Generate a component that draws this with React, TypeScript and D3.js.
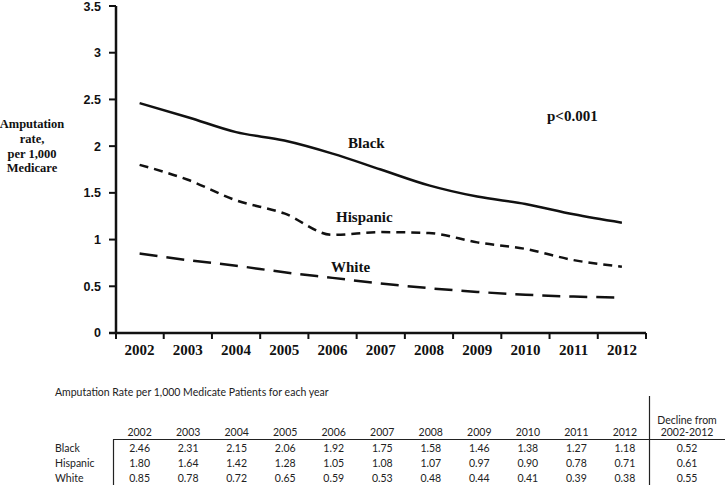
import React from "react";
import * as d3 from "d3";

const years = ["2002","2003","2004","2005","2006","2007","2008","2009","2010","2011","2012"];
const black = [2.46, 2.31, 2.15, 2.06, 1.92, 1.75, 1.58, 1.46, 1.38, 1.27, 1.18];
const hispanic = [1.80, 1.64, 1.42, 1.28, 1.05, 1.08, 1.07, 0.97, 0.90, 0.78, 0.71];
const white = [0.85, 0.78, 0.72, 0.65, 0.59, 0.53, 0.48, 0.44, 0.41, 0.39, 0.38];
const groups = ["Black", "Hispanic", "White"];
const decline = ["0.52", "0.61", "0.55"];
const yTicks = [0, 0.5, 1, 1.5, 2, 2.5, 3, 3.5];
const yTitle = ["Amputation", "rate,", "per 1,000", "Medicare"];

const W = 725, H = 485;

export default function App() {
  const x = d3.scaleBand<string>().domain(years).range([115.5, 646]).padding(0);
  const y = d3.scaleLinear().domain([0, 3.5]).range([333, 6]);
  const cx = (yr: string) => (x(yr) as number) + x.bandwidth() / 2;
  const line = d3
    .line<number>()
    .x((_, i) => cx(years[i]))
    .y((d) => y(d))
    .curve(d3.curveMonotoneX);

  const series = [
    { data: black, dash: undefined as string | undefined },
    { data: hispanic, dash: "9,6" },
    { data: white, dash: "18,9" },
  ];
  const tableRows = [black, hispanic, white];
  const serif = "'Liberation Serif', 'Times New Roman', serif";
  const sans = "'Liberation Sans', Arial, sans-serif";
  const tfont = "Lato, 'Open Sans', sans-serif";
  const rowY = [448, 463, 478];
  const boundaries = years.map((yr) => (x(yr) as number) + x.bandwidth());

  return (
    <svg
      width={W}
      height={H}
      style={{ position: "absolute", left: 0, top: 0, background: "#fff" }}
    >
      {/* axes */}
      <line x1={116} x2={116} y1={y(3.5)} y2={y(0)} stroke="#111" strokeWidth={2.5} />
      <line x1={109} x2={646} y1={y(0)} y2={y(0)} stroke="#111" strokeWidth={2.5} />
      {yTicks.map((t) => (
        <g key={t}>
          <line x1={109} x2={116} y1={y(t)} y2={y(t)} stroke="#111" strokeWidth={2} />
          <text
            x={101}
            y={Math.max(y(t), 7)}
            dy="0.35em"
            textAnchor="end"
            fontFamily={sans}
            fontWeight="bold"
            fontSize={12.5}
            fill="#111"
          >
            {t}
          </text>
        </g>
      ))}
      <line x1={116} x2={116} y1={y(0)} y2={y(0) + 6} stroke="#111" strokeWidth={2} />
      {boundaries.map((bx, i) => (
        <line key={i} x1={bx} x2={bx} y1={y(0)} y2={y(0) + 6} stroke="#111" strokeWidth={2} />
      ))}
      {years.map((yr) => (
        <text
          key={yr}
          x={cx(yr)}
          y={355}
          textAnchor="middle"
          fontFamily={serif}
          fontWeight="bold"
          fontSize={15}
          fill="#111"
        >
          {yr}
        </text>
      ))}
      {/* y title */}
      {yTitle.map((s, i) => (
        <text
          key={s}
          x={32}
          y={124 + i * 14.7}
          dy="0.35em"
          textAnchor="middle"
          fontFamily={serif}
          fontWeight="bold"
          fontSize={12.5}
          fill="#111"
        >
          {s}
        </text>
      ))}
      {/* lines */}
      {series.map((s, i) => (
        <path
          key={i}
          d={line(s.data) || ""}
          fill="none"
          stroke="#111"
          strokeWidth={2.5}
          strokeDasharray={s.dash}
        />
      ))}
      {/* labels */}
      <text x={348} y={143} dy="0.35em" fontFamily={serif} fontWeight="bold" fontSize={15} fill="#111">Black</text>
      <text x={336} y={217} dy="0.35em" fontFamily={serif} fontWeight="bold" fontSize={15} fill="#111">Hispanic</text>
      <text x={331} y={267} dy="0.35em" fontFamily={serif} fontWeight="bold" fontSize={15} fill="#111">White</text>
      <text x={547} y={116} dy="0.35em" fontFamily={serif} fontWeight="bold" fontSize={15} fill="#111">p&lt;0.001</text>

      {/* table */}
      <text x={55} y={392} dy="0.35em" fontFamily={tfont} fontSize={10.5} fill="#222">
        Amputation Rate per 1,000 Medicate Patients for each year
      </text>
      <line x1={113} x2={725} y1={439.5} y2={439.5} stroke="#222" strokeWidth={1.2} />
      <line x1={113.5} x2={113.5} y1={439.5} y2={485} stroke="#222" strokeWidth={1.2} />
      <line x1={649.5} x2={649.5} y1={396} y2={485} stroke="#222" strokeWidth={1.2} />
      {years.map((yr) => (
        <text key={yr} x={cx(yr) + 0.3 * (years.indexOf(yr))} y={432} dy="0.35em" textAnchor="middle" fontFamily={tfont} fontSize={10.5} fill="#222">
          {yr}
        </text>
      ))}
      <text x={687} y={420} dy="0.35em" textAnchor="middle" fontFamily={tfont} fontSize={10.5} fill="#222">Decline from</text>
      <text x={687} y={432} dy="0.35em" textAnchor="middle" fontFamily={tfont} fontSize={10.5} fill="#222">2002-2012</text>
      {groups.map((g, r) => (
        <g key={g}>
          <text x={55} y={rowY[r]} dy="0.35em" fontFamily={tfont} fontSize={10.5} fill="#222">{g}</text>
          {tableRows[r].map((v, i) => (
            <text key={i} x={cx(years[i]) + 0.3 * i} y={rowY[r]} dy="0.35em" textAnchor="middle" fontFamily={tfont} fontSize={10.5} fill="#222">
              {v.toFixed(2)}
            </text>
          ))}
          <text x={687} y={rowY[r]} dy="0.35em" textAnchor="middle" fontFamily={tfont} fontSize={10.5} fill="#222">{decline[r]}</text>
        </g>
      ))}
    </svg>
  );
}
